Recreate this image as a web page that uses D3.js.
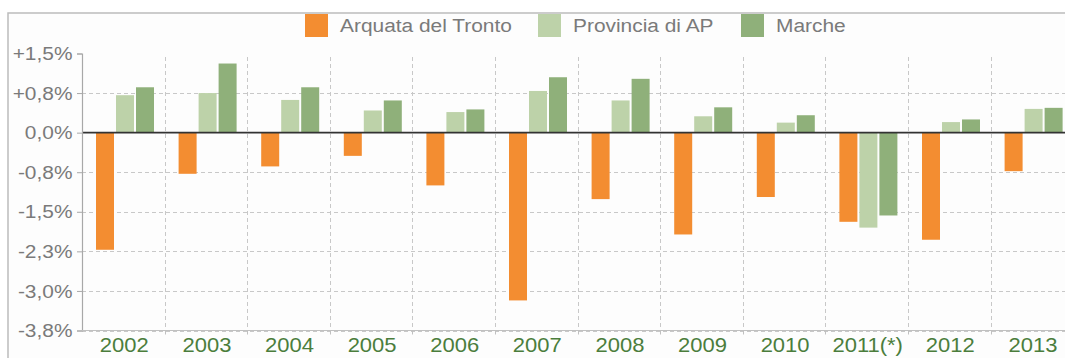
<!DOCTYPE html>
<html>
<head>
<meta charset="utf-8">
<script src="https://cdn.jsdelivr.net/npm/d3@7"></script>
<style>
  html, body { margin: 0; padding: 0; background: #ffffff; }
  svg { display: block; font-family: "Liberation Sans", Arial, Helvetica, sans-serif; }
</style>
</head>
<body>
<svg id="chart" width="1065" height="358"></svg>
<script>
// Annual population change (%)
const years = ["2002","2003","2004","2005","2006","2007","2008","2009","2010","2011(*)","2012","2013"];
const seriesNames = ["Arquata del Tronto", "Provincia di AP", "Marche"];
const arquata  = [-2.22, -0.78, -0.64, -0.44, -1.00, -3.18, -1.26, -1.93, -1.22, -1.69, -2.03, -0.73];
const provincia = [0.71, 0.75, 0.62, 0.42, 0.39, 0.79, 0.61, 0.31, 0.19, -1.80, 0.20, 0.45];
const marche   = [0.86, 1.31, 0.86, 0.61, 0.44, 1.05, 1.02, 0.48, 0.33, -1.57, 0.25, 0.47];
const yTicks = [1.5, 0.75, 0, -0.75, -1.5, -2.25, -3.0, -3.75];
const yTickLabels = ["+1,5%", "+0,8%", "0,0%", "-0,8%", "-1,5%", "-2,3%", "-3,0%", "-3,8%"];
const colors = ["#f38d31", "#bdd2a9", "#8fb07a"];

const series = [arquata, provincia, marche];
const svg = d3.select("#chart");
const SX = 1.1; // horizontal text stretch

const plotLeft = 82, plotTop = 53.5, plotBottom = 330.5, step = 82.6;
const x = d3.scaleBand().domain(years).range([plotLeft, plotLeft + step * years.length]).padding(0);
const xi = d3.scaleBand().domain(seriesNames).range([14, 72]).paddingInner(0.1);
const y = d3.scaleLinear().domain([-3.75, 1.5]).range([plotBottom, plotTop]);

// outer frame
svg.append("rect").attr("x", 8).attr("y", 13).attr("width", 1100).attr("height", 400)
  .attr("fill", "#fdfdfd").attr("stroke", "#bcbcbc").attr("stroke-width", 1.5);

// horizontal grid lines
svg.append("g").selectAll("line").data(yTicks.filter(t => t < 1.5 && t !== 0)).join("line")
  .attr("x1", plotLeft).attr("x2", 1065)
  .attr("y1", d => Math.round(y(d)) + 0.5).attr("y2", d => Math.round(y(d)) + 0.5)
  .attr("stroke", "#c8c8c8").attr("stroke-dasharray", "4,3");

// vertical grid lines between categories
svg.append("g").selectAll("line").data(years.slice(1)).join("line")
  .attr("x1", d => Math.round(x(d)) + 0.5).attr("x2", d => Math.round(x(d)) + 0.5)
  .attr("y1", 57).attr("y2", plotBottom)
  .attr("stroke", "#c8c8c8").attr("stroke-dasharray", "4,3");

// bars
const groups = svg.append("g").selectAll("g").data(years).join("g")
  .attr("transform", d => `translate(${x(d)},0)`);
groups.selectAll("rect").data((d, i) => series.map((s, k) => ({ k, v: s[i] }))).join("rect")
  .attr("x", d => xi(seriesNames[d.k]))
  .attr("width", xi.bandwidth())
  .attr("y", d => y(Math.max(0, d.v)))
  .attr("height", d => Math.abs(y(d.v) - y(0)))
  .attr("fill", d => colors[d.k]);

// zero line
svg.append("line").attr("x1", plotLeft).attr("x2", 1065)
  .attr("y1", y(0)).attr("y2", y(0)).attr("stroke", "#333").attr("stroke-width", 1.6);

// y axis
const yAxis = d3.axisLeft(y).tickValues(yTicks).tickSize(5).tickPadding(4)
  .tickFormat((d, i) => yTickLabels[i]);
const gy = svg.append("g").attr("transform", `translate(${plotLeft},0)`).call(yAxis);
gy.select(".domain").attr("stroke", "#a8a8a8").attr("stroke-width", 1.2);
gy.selectAll(".tick line").attr("stroke", "#a8a8a8");
gy.selectAll(".tick text")
  .attr("x", -9.5 / SX).attr("transform", `scale(${SX},1)`)
  .attr("fill", "#7a7a7a").style("font-size", "19px")
  .style("font-family", "'Liberation Sans', Arial, sans-serif");

// x axis baseline with small ticks
svg.append("line").attr("x1", plotLeft).attr("x2", 1065)
  .attr("y1", plotBottom).attr("y2", plotBottom).attr("stroke", "#c0c0c0");
svg.append("g").selectAll("line").data(years.slice(1)).join("line")
  .attr("x1", d => Math.round(x(d)) + 0.5).attr("x2", d => Math.round(x(d)) + 0.5)
  .attr("y1", plotBottom).attr("y2", plotBottom + 4).attr("stroke", "#c0c0c0");

// x labels
svg.append("g").selectAll("text").data(years).join("text")
  .attr("transform", d => `translate(${x(d) + x.bandwidth() / 2 + 1},352) scale(${SX},1)`)
  .attr("text-anchor", "middle")
  .attr("fill", "#4b7d3c").style("font-size", "20px")
  .text(d => d);

// legend
const legendX = [305, 538, 741];
const lg = svg.append("g").selectAll("g").data(seriesNames).join("g")
  .attr("transform", (d, i) => `translate(${legendX[i]},14)`);
lg.append("rect").attr("width", 23).attr("height", 23).attr("fill", (d, i) => colors[i]);
lg.append("text").attr("transform", `translate(35,18) scale(${SX},1)`)
  .attr("fill", "#7a7a7a").style("font-size", "19px").text(d => d);
</script>
</body>
</html>
